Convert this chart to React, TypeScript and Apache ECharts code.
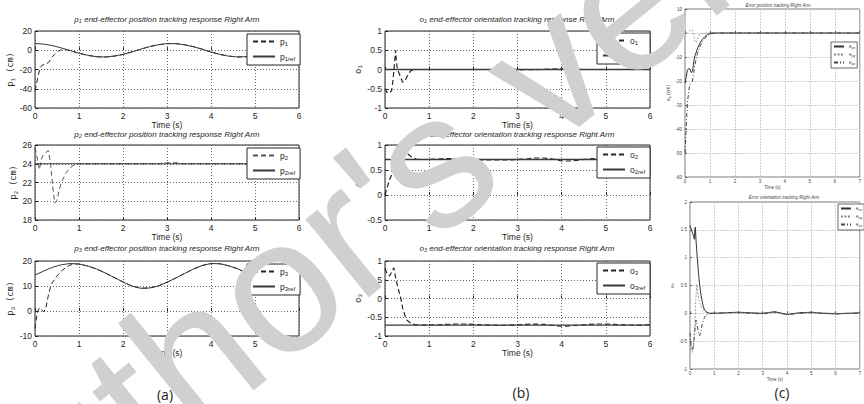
import React, { useEffect, useRef } from 'react';
import * as echarts from 'echarts';

// ---------- data ----------
const T_REF = [0, 0.2, 0.4, 0.6, 0.8, 1.0, 1.2, 1.4, 1.6, 1.8, 2.0, 2.2, 2.4, 2.6, 2.8, 3.0, 3.2, 3.4, 3.6, 3.8, 4.0, 4.2, 4.4, 4.6, 4.8, 5.0, 5.2, 5.4, 5.6, 5.8, 6.0];

const p1Ref = [7.0, 6.4, 4.8, 2.4, -0.4, -3.1, -5.3, -6.7, -7.0, -6.1, -4.3, -1.8, 1.1, 3.7, 5.7, 6.9, 6.9, 5.7, 3.7, 1.1, -1.8, -4.3, -6.1, -7.0, -6.7, -5.3, -3.1, -0.4, 2.4, 4.8, 6.4];
const p1T = [0, 0.03, 0.08, 0.12, 0.16, 0.2, 0.25, 0.3, 0.35, 0.4, 0.45, 0.5, 0.55, 0.6, 0.65, 0.7, 0.8, 1.0, 1.2, 1.4, 1.6, 1.8, 2.0, 2.2, 2.4, 2.6, 2.8, 3.0, 3.2, 3.4, 3.6, 3.8, 4.0, 4.2, 4.4, 4.6, 4.8, 5.0, 5.2, 5.4, 5.6, 5.8, 6.0];
const p1V = [-42, -36, -25, -18, -15.5, -15, -14.5, -13, -10, -6.5, -4, -2, -0.5, 0.5, 1, 0.8, -0.4, -3.1, -5.3, -6.7, -7.0, -6.1, -4.3, -1.8, 1.1, 3.7, 5.7, 6.9, 6.9, 5.7, 3.7, 1.1, -1.8, -4.3, -6.1, -7.0, -6.7, -5.3, -3.1, -0.4, 2.4, 4.8, 6.4];

const p2RefT = [0, 6];
const p2Ref = [24, 24];
const p2T = [0, 0.05, 0.1, 0.15, 0.2, 0.25, 0.3, 0.35, 0.4, 0.45, 0.5, 0.55, 0.6, 0.7, 0.8, 0.9, 1.0, 2.85, 2.9, 3.3, 3.35, 6.0];
const p2V = [25.7, 24.6, 23.4, 24.6, 25.0, 25.2, 25.4, 24.2, 21.6, 19.8, 20.1, 21.2, 22.0, 23.0, 23.6, 23.9, 24.0, 24.0, 24.1, 24.1, 24.0, 24.0];

const p3Ref = [14.4, 16.0, 17.5, 18.5, 19.0, 18.8, 18.0, 16.8, 15.2, 13.4, 11.6, 10.0, 9.1, 9.2, 10.0, 11.5, 13.2, 15.0, 16.8, 18.2, 19.0, 18.9, 18.1, 16.9, 15.3, 13.8, 12.0, 10.6, 9.6, 9.3, 9.8];
const p3T = [0, 0.04, 0.08, 0.12, 0.16, 0.2, 0.25, 0.3, 0.35, 0.4, 0.5, 0.6, 0.7, 0.8, 0.9, 1.0, 1.2, 1.4, 1.6, 1.8, 2.0, 2.2, 2.4, 2.6, 2.8, 3.0, 3.2, 3.4, 3.6, 3.8, 4.0, 4.2, 4.4, 4.6, 4.8, 5.0, 5.2, 5.4, 5.6, 5.8, 6.0];
const p3V = [-7, -2, 0.8, 1.2, 0.3, -0.3, 1.5, 6, 9.5, 11.5, 14, 16, 17.4, 18.4, 18.8, 18.8, 18.0, 16.8, 15.2, 13.4, 11.6, 10.0, 9.1, 9.2, 10.0, 11.5, 13.2, 15.0, 16.8, 18.2, 19.0, 18.9, 18.1, 16.9, 15.3, 13.8, 12.0, 10.6, 9.6, 9.3, 9.8];

const o1RefT = [0, 6];
const o1Ref = [0, 0];
const o1T = [0, 0.05, 0.1, 0.15, 0.18, 0.21, 0.24, 0.26, 0.28, 0.32, 0.36, 0.4, 0.45, 0.5, 0.55, 0.6, 0.7, 2.5, 3.0, 3.5, 3.8, 4.0, 4.5, 6.0];
const o1V = [-0.5, -0.6, -0.62, -0.55, -0.3, 0.1, 0.5, 0.2, 0.0, -0.1, -0.22, -0.33, -0.3, -0.18, -0.08, -0.02, 0.0, 0.0, -0.01, 0.0, 0.01, 0.02, 0.0, 0.0];

const o2RefT = [0, 6];
const o2Ref = [0.71, 0.71];
const o2T = [0, 0.05, 0.1, 0.15, 0.2, 0.24, 0.28, 0.34, 0.4, 0.5, 0.6, 0.7, 0.8, 1.0, 1.2, 1.4, 1.6, 1.8, 2.0, 2.2, 2.4, 2.6, 2.8, 3.0, 3.2, 3.4, 3.6, 3.8, 4.0, 4.2, 4.4, 4.6, 4.8, 5.0, 5.2, 5.4, 5.6, 5.8, 6.0];
const o2V = [0.0, 0.15, 0.3, 0.4, 0.65, 0.9, 0.98, 0.94, 0.9, 0.83, 0.76, 0.72, 0.71, 0.71, 0.72, 0.73, 0.73, 0.72, 0.71, 0.70, 0.70, 0.70, 0.70, 0.71, 0.72, 0.74, 0.74, 0.72, 0.68, 0.68, 0.70, 0.72, 0.73, 0.72, 0.71, 0.70, 0.70, 0.71, 0.72];

const o3RefT = [0, 6];
const o3Ref = [-0.71, -0.71];
const o3T = [0, 0.05, 0.1, 0.15, 0.2, 0.25, 0.3, 0.35, 0.4, 0.45, 0.5, 0.6, 0.7, 0.8, 1.0, 1.2, 1.4, 1.6, 1.8, 2.0, 2.2, 2.4, 2.6, 2.8, 3.0, 3.2, 3.4, 3.6, 3.8, 4.0, 4.2, 4.4, 4.6, 4.8, 5.0, 5.2, 5.4, 5.6, 5.8, 6.0];
const o3V = [0.8, 0.65, 0.6, 0.7, 0.82, 0.5, 0.25, 0.05, -0.25, -0.45, -0.58, -0.67, -0.7, -0.71, -0.71, -0.70, -0.69, -0.68, -0.68, -0.69, -0.70, -0.71, -0.72, -0.71, -0.70, -0.69, -0.68, -0.69, -0.72, -0.74, -0.73, -0.71, -0.69, -0.68, -0.68, -0.69, -0.70, -0.71, -0.71, -0.70];

const epxT = [0, 0.05, 0.1, 0.15, 0.2, 0.25, 0.3, 0.35, 0.4, 0.5, 0.6, 0.7, 0.8, 0.9, 1.0, 1.1, 1.3, 7];
const epxV = [-21, -18, -15.5, -14.8, -15, -16.5, -16, -12, -9.5, -6.5, -4.2, -2.6, -1.4, -0.6, -0.2, 0, 0, 0];
const epyT = [0, 0.05, 0.1, 0.15, 0.2, 0.25, 0.3, 0.35, 0.4, 0.45, 0.5, 0.55, 0.6, 0.7, 0.8, 1.0, 7];
const epyV = [0.5, -0.5, 0.2, 0.5, 1.0, 1.5, 1.2, -1, -3.5, -4, -2.5, -1.2, -0.5, -0.2, 0, 0, 0];
const epzT = [0, 0.03, 0.06, 0.1, 0.15, 0.2, 0.25, 0.3, 0.35, 0.4, 0.5, 0.6, 0.7, 0.8, 0.9, 1.0, 1.2, 7];
const epzV = [-50, -44, -36, -29, -24, -21.5, -21, -20, -16.5, -13, -8.5, -5.5, -3.5, -2.2, -1.2, -0.5, 0, 0];

const eoxT = [0, 0.05, 0.1, 0.15, 0.18, 0.2, 0.22, 0.25, 0.3, 0.35, 0.4, 0.45, 0.5, 0.55, 0.6, 0.7, 0.8, 1.0, 1.5, 2.0, 2.5, 3.0, 3.5, 4.0, 4.5, 5.0, 5.5, 6.0, 6.5, 7.0];
const eoxV = [1.58, 1.52, 1.45, 1.38, 1.33, 1.5, 1.55, 1.3, 1.0, 0.72, 0.5, 0.34, 0.22, 0.12, 0.06, 0.02, 0.0, 0.0, 0.01, 0.02, 0.01, 0.0, 0.03, -0.02, 0.01, 0.02, 0.0, -0.01, 0.0, 0.01];
const eoyT = [0, 0.05, 0.1, 0.15, 0.2, 0.24, 0.28, 0.32, 0.36, 0.4, 0.5, 0.6, 0.7, 0.8, 1.0, 1.5, 2.0, 2.5, 3.0, 3.5, 4.0, 4.5, 5.0, 5.5, 6.0, 6.5, 7.0];
const eoyV = [-0.45, -0.68, -0.7, -0.62, -0.2, 0.25, 0.52, 0.35, 0.25, 0.18, 0.09, 0.04, 0.01, 0.0, 0.0, 0.01, 0.02, 0.0, 0.0, 0.02, -0.03, 0.0, 0.02, 0.01, 0.0, 0.0, 0.0];
const eozT = [0, 0.05, 0.1, 0.15, 0.2, 0.25, 0.3, 0.35, 0.4, 0.45, 0.5, 0.6, 0.7, 0.8, 1.0, 1.5, 2.0, 2.5, 3.0, 3.5, 4.0, 4.5, 5.0, 5.5, 6.0, 6.5, 7.0];
const eozV = [-0.35, -0.6, -0.66, -0.55, -0.3, -0.12, -0.22, -0.36, -0.4, -0.32, -0.2, -0.07, -0.02, 0.0, 0.0, 0.01, 0.01, 0.0, -0.01, 0.02, -0.02, 0.0, 0.01, 0.0, -0.01, 0.0, 0.0];

// ---------- style ----------
const FONT = "'Liberation Sans Narrow', 'Liberation Sans', Arial, sans-serif";
const INK = '#262626';
const zip = (t: number[], v: number[]) => t.map((x, i) => [x, v[i]]);

const DASH = [5, 3];
const DASHDOT = [4, 2, 1, 2];

const subName = (name: string) => {
  const m = name.match(/^([a-z])(.*)$/);
  return m ? `{b|${m[1]}}{s|${m[2]}}` : name;
};

function abAxes(i: number, ymin: number, ymax: number, yint: number, yName: string, nameGap: number) {
  const x = {
    gridIndex: i, type: 'value', min: 0, max: 6, interval: 1,
    axisLine: { show: false },
    axisTick: { inside: true, length: 3, lineStyle: { color: INK } },
    axisLabel: { fontSize: 8.5, color: INK, margin: 3, fontFamily: FONT },
    splitLine: { show: true, lineStyle: { type: [1, 2], color: '#666', width: 1 } },
    name: 'Time (s)', nameLocation: 'middle', nameGap: 11,
    nameTextStyle: { fontSize: 8.5, color: INK, fontFamily: FONT },
  };
  const y = {
    gridIndex: i, type: 'value', min: ymin, max: ymax, interval: yint,
    axisLine: { show: false },
    axisTick: { inside: true, length: 3, lineStyle: { color: INK } },
    axisLabel: { fontSize: 8.5, color: INK, margin: 3, fontFamily: FONT },
    splitLine: { show: true, lineStyle: { type: [1, 2], color: '#666', width: 1 } },
    name: yName, nameLocation: 'middle', nameRotate: 90, nameGap,
    nameTextStyle: {
      color: INK,
      rich: {
        b: { fontSize: 9, fontFamily: "'DejaVu Sans Mono', monospace", color: INK },
        s: { fontSize: 6, fontFamily: FONT, padding: [5, 0, 0, 0], color: INK },
        n: { fontSize: 8.5, fontFamily: "'DejaVu Sans Mono', monospace", color: INK },
      },
    },
  };
  return { x, y };
}

function cAxes(i: number, ymin: number, ymax: number, yint: number, yName: string) {
  const x = {
    gridIndex: i, type: 'value', min: 0, max: 7, interval: 1,
    axisLine: { show: false },
    axisTick: { inside: true, length: 2, lineStyle: { color: '#555' } },
    axisLabel: { fontSize: 4.5, color: '#444', margin: 2, fontFamily: FONT },
    splitLine: { show: true, lineStyle: { type: [2, 1], color: '#c4c4c4', width: 0.8 } },
    name: 'Time (s)', nameLocation: 'middle', nameGap: 6,
    nameTextStyle: { fontSize: 4.5, color: '#444', fontFamily: FONT },
  };
  const y = {
    gridIndex: i, type: 'value', min: ymin, max: ymax, interval: yint,
    axisLine: { show: false },
    axisTick: { inside: true, length: 2, lineStyle: { color: '#555' } },
    axisLabel: { fontSize: 4.5, color: '#444', margin: 3, fontFamily: FONT },
    splitLine: { show: true, lineStyle: { type: [2, 1], color: '#c4c4c4', width: 0.8 } },
    name: yName, nameLocation: 'middle', nameRotate: 90, nameGap: 8,
    nameTextStyle: {
      color: '#444',
      rich: {
        b: { fontSize: 5, fontFamily: FONT, color: '#444' },
        s: { fontSize: 3.5, fontFamily: FONT, padding: [3, 0, 0, 0], color: '#444' },
      },
    },
  };
  return { x, y };
}

function ln(name: string, i: number, data: number[][], type: any, width: number, color: string) {
  return {
    type: 'line', name, xAxisIndex: i, yAxisIndex: i, data, symbol: 'none',
    lineStyle: { type, width, color }, itemStyle: { color }, silent: true,
    clip: true,
  };
}

const HIDDEN_SYMBOL = { color: 'rgba(0,0,0,0)', borderColor: 'rgba(0,0,0,0)', borderWidth: 0, opacity: 0 };

function abLegend(names: string[], left: number, top: number) {
  return {
    data: names, left, top, orient: 'vertical', selectedMode: false,
    backgroundColor: '#fff', borderColor: INK, borderWidth: 1,
    padding: [3, 5, 3, 5], itemWidth: 22, itemHeight: 8, itemGap: 5,
    itemStyle: HIDDEN_SYMBOL,
    formatter: subName,
    textStyle: {
      color: INK,
      rich: {
        b: { fontSize: 8.5, fontFamily: FONT, color: INK },
        s: { fontSize: 6, fontFamily: FONT, padding: [5, 0, 0, 0], color: INK },
      },
    },
  };
}

function cLegend(names: string[], left: number, top: number) {
  return {
    data: names, left, top, orient: 'vertical', selectedMode: false,
    backgroundColor: '#fff', borderColor: '#444', borderWidth: 0.8,
    padding: [2, 2, 2, 2], itemWidth: 10, itemHeight: 4, itemGap: 2,
    itemStyle: HIDDEN_SYMBOL,
    formatter: subName,
    textStyle: {
      color: '#444',
      rich: {
        b: { fontSize: 4.5, fontFamily: FONT, color: '#444' },
        s: { fontSize: 3.5, fontFamily: FONT, padding: [3, 0, 0, 0], color: '#444' },
      },
    },
  };
}

const TITLE_RICH = {
  i: { fontSize: 8, fontStyle: 'italic', fontFamily: FONT, fill: INK, color: INK },
  s: { fontSize: 5.5, fontStyle: 'italic', fontFamily: FONT, padding: [4, 0, 0, 0], fill: INK, color: INK },
};

function titleText(x: number, y: number, sym: string, idx: string, rest: string) {
  return {
    type: 'text', x, y, z: 10,
    style: {
      text: `{i|${sym}}{s|${idx}}{i| ${rest}}`,
      rich: TITLE_RICH,
      align: 'center', verticalAlign: 'middle',
    },
  };
}

export default function App() {
  const ref = useRef<HTMLDivElement>(null);
  useEffect(() => {
    if (!ref.current) return;
    const chart = echarts.init(ref.current, undefined, { renderer: 'svg' });

    const gridAB = { show: true, borderColor: INK, borderWidth: 1, backgroundColor: '#fff' };
    const grids = [
      { ...gridAB, left: 35, top: 31, width: 264, height: 77 },
      { ...gridAB, left: 35, top: 145, width: 264, height: 75 },
      { ...gridAB, left: 35, top: 261, width: 264, height: 75 },
      { ...gridAB, left: 385, top: 31, width: 265, height: 77 },
      { ...gridAB, left: 385, top: 145, width: 265, height: 75 },
      { ...gridAB, left: 385, top: 261, width: 265, height: 75 },
      { show: true, borderColor: '#555', borderWidth: 0.8, backgroundColor: '#fff', left: 685, top: 9, width: 218, height: 168 },
      { show: true, borderColor: '#555', borderWidth: 0.8, backgroundColor: '#fff', left: 690, top: 202, width: 207, height: 167 },
    ];

    const axes = [
      abAxes(0, -60, 20, 20, '{b|p}{s|1}{n| (cm)}', 13),
      abAxes(1, 18, 26, 2, '{b|p}{s|2}{n| (cm)}', 13),
      abAxes(2, -10, 20, 10, '{b|p}{s|3}{n| (cm)}', 13),
      abAxes(3, -1, 1, 0.5, '{b|o}{s|1}', 16),
      abAxes(4, -0.5, 1, 0.5, '{b|o}{s|2}', 16),
      abAxes(5, -1, 1, 0.5, '{b|o}{s|3}', 16),
      cAxes(6, -60, 10, 10, '{b|e}{s|p}{b| (cm)}'),
      cAxes(7, -1, 2, 0.5, '{b|e}{s|o}'),
    ];

    const series = [
      ln('p1', 0, zip(p1T, p1V), DASH, 1, INK),
      ln('p1ref', 0, zip(T_REF, p1Ref), 'solid', 1, '#3a3a3a'),
      ln('p2', 1, zip(p2T, p2V), DASH, 1, '#555'),
      ln('p2ref', 1, zip(p2RefT, p2Ref), 'solid', 1, '#3a3a3a'),
      ln('p3', 2, zip(p3T, p3V), DASH, 1, INK),
      ln('p3ref', 2, zip(T_REF, p3Ref), 'solid', 1, '#3a3a3a'),
      ln('o1', 3, zip(o1T, o1V), DASH, 1.2, INK),
      ln('o1ref', 3, zip(o1RefT, o1Ref), 'solid', 1.3, '#3a3a3a'),
      ln('o2', 4, zip(o2T, o2V), DASH, 1.2, INK),
      ln('o2ref', 4, zip(o2RefT, o2Ref), 'solid', 1.3, '#3a3a3a'),
      ln('o3', 5, zip(o3T, o3V), DASH, 1.2, INK),
      ln('o3ref', 5, zip(o3RefT, o3Ref), 'solid', 1.3, '#3a3a3a'),
      ln('epx', 6, zip(epxT, epxV), 'solid', 1, '#333'),
      ln('epy', 6, zip(epyT, epyV), [2, 1.5], 0.8, '#888'),
      ln('epz', 6, zip(epzT, epzV), DASHDOT, 1, '#444'),
      ln('eox', 7, zip(eoxT, eoxV), 'solid', 1, '#333'),
      ln('eoy', 7, zip(eoyT, eoyV), [2, 1.5], 0.8, '#888'),
      ln('eoz', 7, zip(eozT, eozV), DASHDOT, 1, '#444'),
    ];

    const legends = [
      abLegend(['p1', 'p1ref'], 247, 34),
      abLegend(['p2', 'p2ref'], 247, 148),
      abLegend(['p3', 'p3ref'], 247, 264),
      abLegend(['o1', 'o1ref'], 597, 33),
      abLegend(['o2', 'o2ref'], 597, 147),
      abLegend(['o3', 'o3ref'], 597, 263),
      cLegend(['epx', 'epy', 'epz'], 831, 42),
      cLegend(['eox', 'eoy', 'eoz'], 838, 204),
    ];

    const graphic = [
      titleText(167, 19, 'p', '1', 'end-effector position tracking response Right Arm'),
      titleText(167, 134, 'p', '2', 'end-effector position tracking response Right Arm'),
      titleText(167, 248, 'p', '3', 'end-effector position tracking response Right Arm'),
      titleText(517, 19, 'o', '1', 'end-effector orientation tracking response Right Arm'),
      titleText(517, 134, 'o', '2', 'end-effector orientation tracking response Right Arm'),
      titleText(517, 248, 'o', '3', 'end-effector orientation tracking response Right Arm'),
      {
        type: 'text', x: 778, y: 5, z: 10,
        style: { text: 'Error position tracking Right Arm', fontSize: 4.5, fontStyle: 'italic', fontFamily: FONT, fill: '#444', align: 'center', verticalAlign: 'middle' },
      },
      {
        type: 'text', x: 784, y: 197, z: 10,
        style: { text: 'Error orientation tracking Right Arm', fontSize: 4.5, fontStyle: 'italic', fontFamily: FONT, fill: '#444', align: 'center', verticalAlign: 'middle' },
      },
      { type: 'text', x: 165, y: 394, z: 10, style: { text: '(a)', fontSize: 14, fontFamily: "'Open Sans', sans-serif", fill: '#222', align: 'center', verticalAlign: 'middle' } },
      { type: 'text', x: 521, y: 392, z: 10, style: { text: '(b)', fontSize: 14, fontFamily: "'Open Sans', sans-serif", fill: '#222', align: 'center', verticalAlign: 'middle' } },
      { type: 'text', x: 782, y: 392, z: 10, style: { text: '(c)', fontSize: 14, fontFamily: "'Open Sans', sans-serif", fill: '#222', align: 'center', verticalAlign: 'middle' } },
      {
        type: 'text', x: 458, y: 140, z: 200, rotation: (39 * Math.PI) / 180,
        style: { text: "Author's version", fontSize: 190, fontFamily: 'Liberation Sans', fill: '#d0d0d0', align: 'center', verticalAlign: 'middle' },
      },
    ];

    chart.setOption({
      animation: false,
      backgroundColor: '#fff',
      grid: grids,
      xAxis: axes.map((a) => a.x),
      yAxis: axes.map((a) => a.y),
      series,
      legend: legends,
      graphic,
    });
    return () => chart.dispose();
  }, []);

  return (
    <div style={{ position: 'fixed', left: 0, top: 0, width: 864, height: 404, background: '#fff' }}>
      <div ref={ref} style={{ width: 864, height: 404 }} />
    </div>
  );
}
